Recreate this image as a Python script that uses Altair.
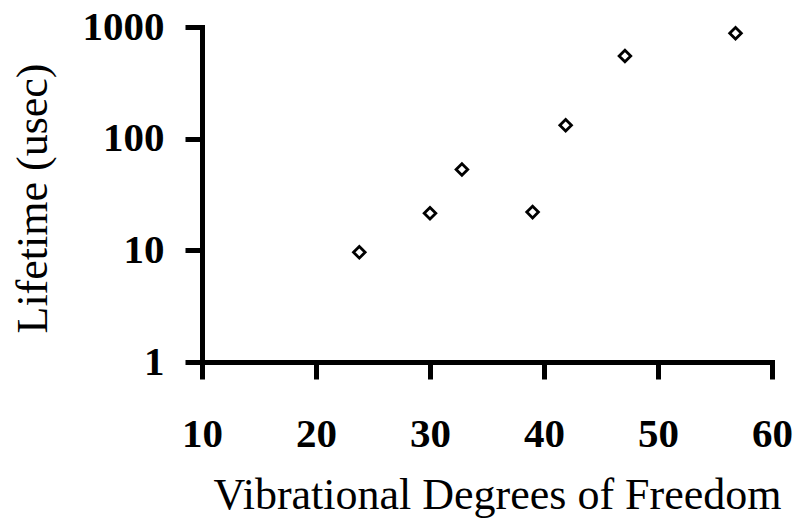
import altair as alt
import pandas as pd

dof = [23.8, 30, 32.8, 39, 41.9, 47.1, 56.8]
lifetime = [9.6, 21.5, 53, 22, 132, 550, 880]
x_ticks = [10, 20, 30, 40, 50, 60]
y_ticks = [1, 10, 100, 1000]

df = pd.DataFrame({"dof": dof, "lifetime": lifetime})

FONT = "Liberation Serif"

chart = alt.Chart(df).mark_point(
    shape="diamond", filled=False, color="black", strokeWidth=2.8, size=135, opacity=1
).encode(
    x=alt.X("dof:Q",
            scale=alt.Scale(domain=[10, 60], nice=False, zero=False),
            axis=alt.Axis(values=x_ticks, title="Vibrational Degrees of Freedom",
                          grid=False, domainColor="black", domainWidth=5, domainCap="square",
                          tickColor="black", tickWidth=5, tickSize=17,
                          labelFont=FONT, labelFontSize=41, labelFontWeight="bold",
                          labelColor="black", labelPadding=35, labelFlush=False,
                          titleFont=FONT, titleFontSize=44, titleFontWeight="normal",
                          titleColor="black", titleX=295, titleY=146,
                          titleAlign="center", titleBaseline="alphabetic")),
    y=alt.Y("lifetime:Q",
            scale=alt.Scale(type="log", domain=[1, 1000], nice=False),
            axis=alt.Axis(values=y_ticks, title="Lifetime (usec)", format="d",
                          grid=False, domainColor="black", domainWidth=5, domainCap="square",
                          tickColor="black", tickWidth=5, tickSize=17,
                          labelFont=FONT, labelFontSize=41, labelFontWeight="bold",
                          labelColor="black", labelPadding=21, labelFlush=False,
                          titleFont=FONT, titleFontSize=44, titleFontWeight="normal",
                          titleColor="black", titleX=-156, titleY=171, titleAngle=270,
                          titleAlign="center", titleBaseline="alphabetic")),
).properties(
    width=570, height=335,
    autosize=alt.AutoSizeParams(type="none"),
    padding={"left": 202, "top": 27, "right": 22, "bottom": 156},
    background="white",
).configure_view(stroke=None)

chart.save("out.html", embed_options={"renderer": "svg", "actions": False})
